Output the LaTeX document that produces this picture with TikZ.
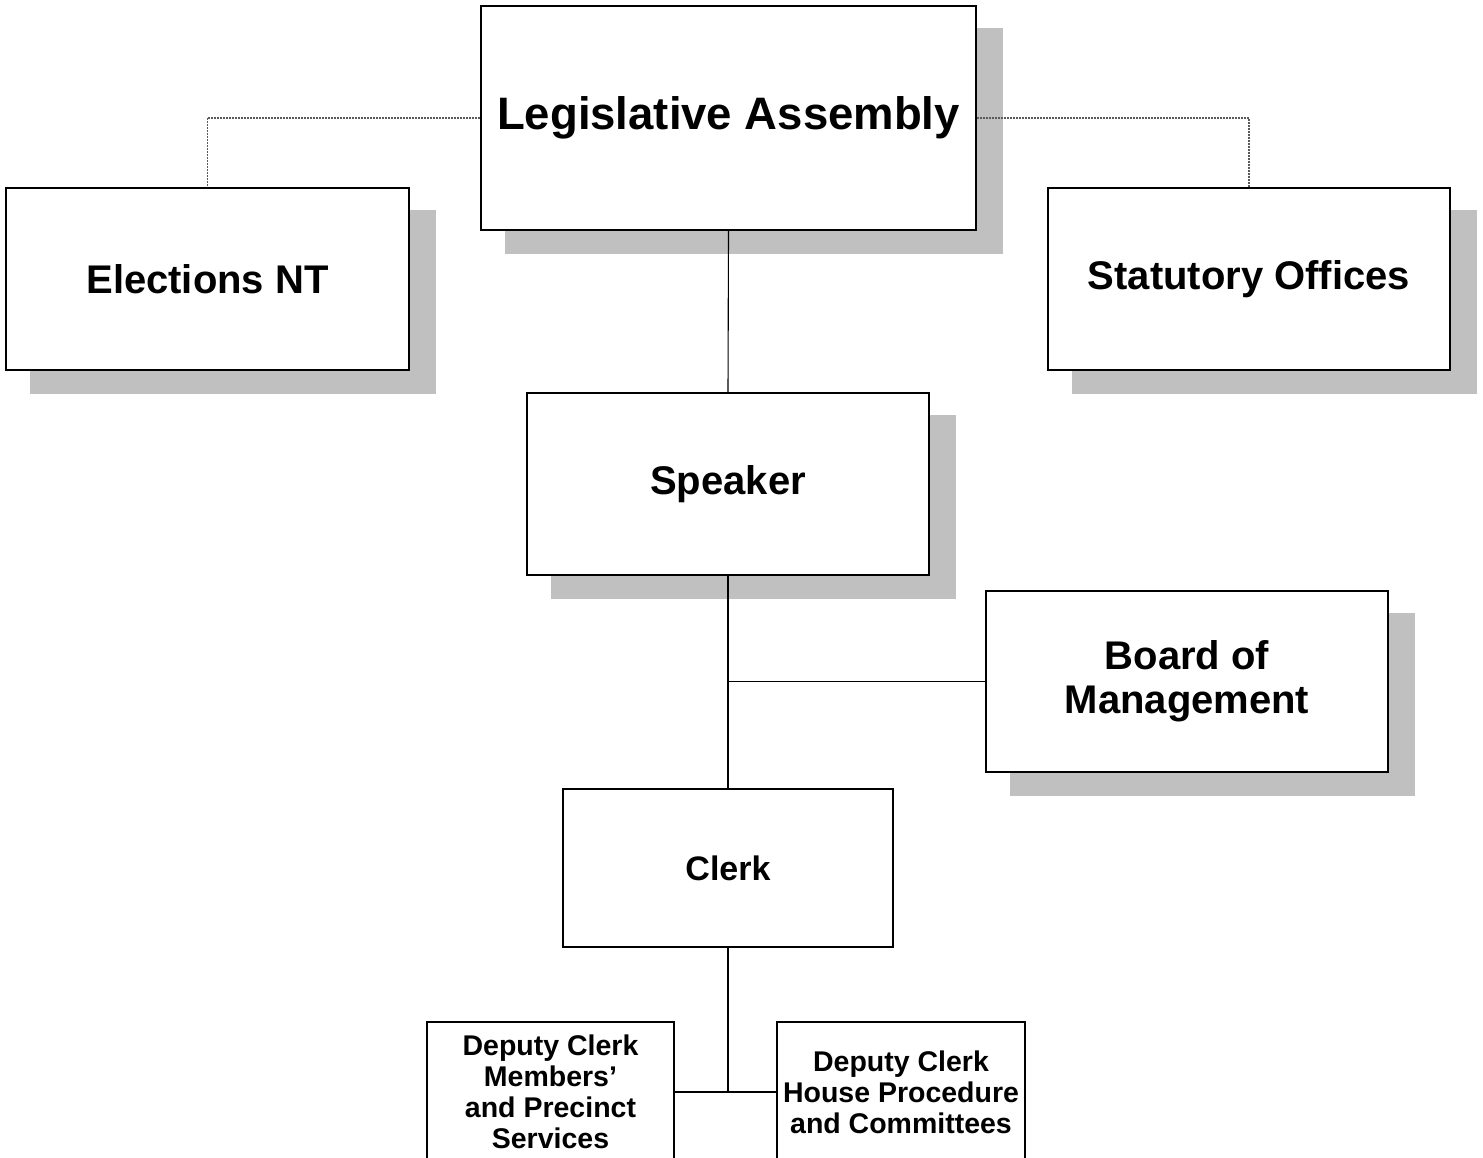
\documentclass[tikz,border=0pt]{standalone}
\usepackage{fontspec}
\setmainfont{Liberation Sans}
\usetikzlibrary{backgrounds}
\definecolor{shadowgray}{RGB}{192,192,192}
\definecolor{dotgray}{RGB}{90,90,90}
\begin{document}
\begin{tikzpicture}[x=1pt,y=-1pt,
  box/.style={draw=black,line width=2pt,fill=white,inner sep=0pt,align=center,font=\bfseries},
  conn/.style={draw=black,line width=1.1pt},
  dotconn/.style={draw=dotgray,line width=1.2pt,dash pattern=on 2pt off 1pt}]
\useasboundingbox (0,0) rectangle (1483,1158);
\clip (0,0) rectangle (1483,1158);
\node[box,minimum width=495,minimum height=224,font=\bfseries\fontsize{45.5}{50}\selectfont] (LA) at (728.5,118) {Legislative Assembly};
\node[box,minimum width=403,minimum height=182,font=\bfseries\fontsize{40}{44}\selectfont] (EL) at (207.5,279) {Elections NT};
\node[box,minimum width=402,minimum height=182,font=\bfseries\fontsize{40}{44}\selectfont] (SO) at (1249,279) {Statutory Offices};
\node[box,minimum width=402,minimum height=182,font=\bfseries\fontsize{40}{44}\selectfont] (SP) at (728,484) {Speaker};
\node[box,minimum width=402,minimum height=181,font=\bfseries\fontsize{40}{44}\selectfont] (BM) at (1187,681.5) {Board of\\Management};
\node[box,minimum width=330,minimum height=158,font=\bfseries\fontsize{34}{38}\selectfont] (CL) at (728,868) {Clerk};
\node[box,minimum width=247,minimum height=140,font=\bfseries\fontsize{28.5}{31}\selectfont] (DL) at (550.5,1092) {Deputy Clerk\\Members’\\and Precinct\\Services};
\node[box,minimum width=248,minimum height=140,font=\bfseries\fontsize{28.5}{31}\selectfont] (DR) at (901,1092) {Deputy Clerk\\House Procedure\\and Committees};
\coordinate (J) at (728,1092);
\begin{scope}[on background layer]
\foreach \n in {LA,EL,SO,SP,BM}{
  \fill[shadowgray] ([xshift=25pt,yshift=-23pt]\n.north west) rectangle ([xshift=26pt,yshift=-23pt]\n.south east);
}
\draw[dotconn] (LA.west) -| (EL.north);
\draw[dotconn] (LA.east) -| (SO.north);
\draw[conn] (LA.south) -- (SP.north);
\draw[conn] (SP.south) -- (CL.north);
\draw[conn] (BM.west) -- (BM.west -| SP.south);
\draw[conn] (CL.south) -- (J);
\draw[conn] (DL.east) -- (DR.west);
\end{scope}
\end{tikzpicture}
\end{document}
